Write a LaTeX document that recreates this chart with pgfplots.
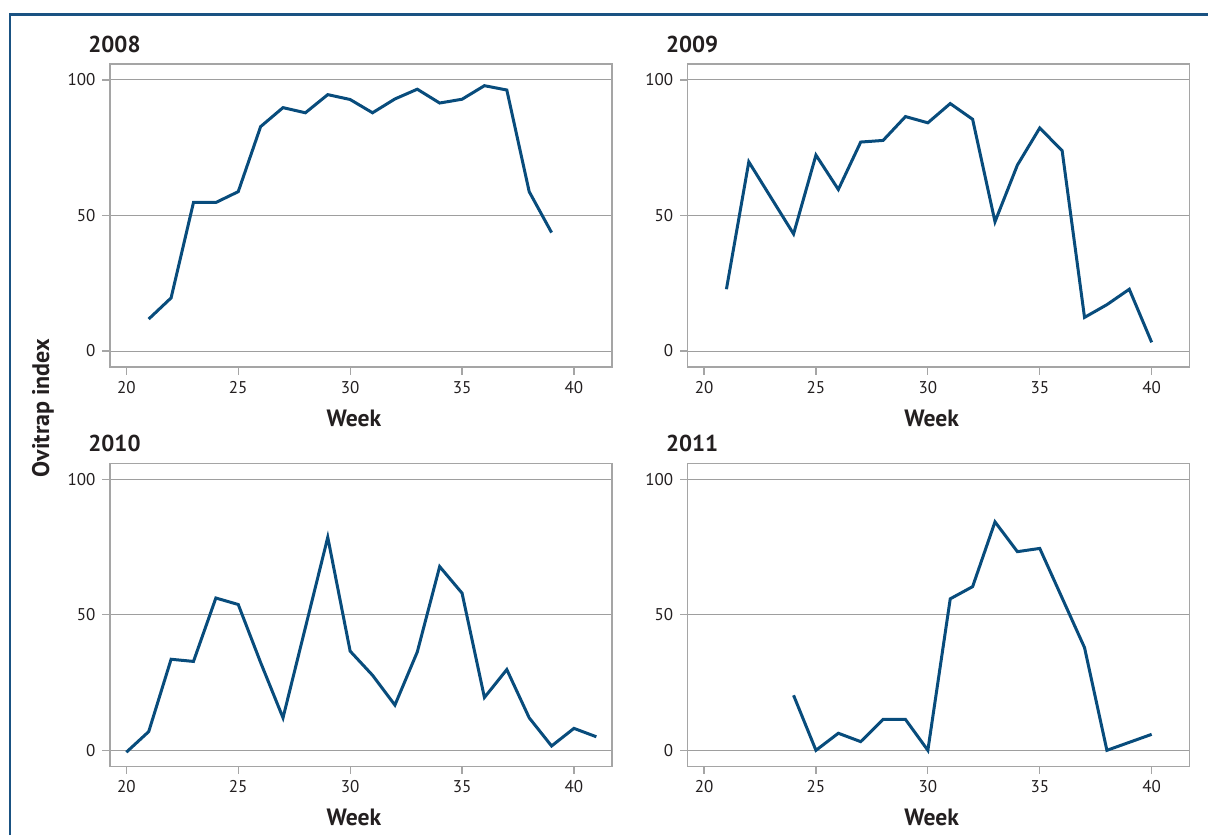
\documentclass[border=0pt]{standalone}
\usepackage{fontspec}
\setmainfont{PT Sans}
\usepackage{pgfplots}
\pgfplotsset{compat=1.18}

\definecolor{lineblue}{RGB}{8,76,124}
\definecolor{frameblue}{RGB}{26,82,130}
\definecolor{gridgray}{RGB}{158,158,158}
\definecolor{boxgray}{RGB}{165,165,165}
\definecolor{ticktext}{RGB}{35,31,32}

\pgfplotsset{
  panel/.style={
    scale only axis,
    width=251pt, height=151.5pt,
    xmin=19.27, xmax=41.7,
    ymin=-5.9, ymax=105.9,
    xtick={20,25,30,35,40},
    ytick={0,50,100},
    ymajorgrids,
    major grid style={line width=0.5pt, color=gridgray},
    axis line style={line width=0.6pt, color=boxgray},
    tick style={line width=0.6pt, color=boxgray},
    tick align=outside,
    major tick length=3.75pt,
    xtick pos=bottom, ytick pos=left,
    tick label style={font=\fontsize{8.5}{10}\selectfont, color=ticktext},
    /pgf/number format/assume math mode=true,
    xlabel={Week},
    xlabel style={font=\bfseries\fontsize{11.8}{13}\selectfont, color=ticktext,
      at={(axis description cs:0.486,0)}, anchor=center, yshift=-25.5pt},
  },
  series/.style={color=lineblue, line width=1.5pt, mark=none},
}
\tikzset{
  ttl/.style={anchor=base west, inner sep=0pt, xshift=-11pt, yshift=6pt,
    font=\bfseries\fontsize{11.5}{13}\selectfont, text=ticktext},
}

\begin{document}
\begin{tikzpicture}
\useasboundingbox (0,0) rectangle (604pt,-417.5pt);
\draw[frameblue, line width=1.2pt] (5.1pt,-417.5pt) -- (5.1pt,-7.25pt) -- (604pt,-7.25pt);

% 2008
\begin{axis}[panel, name=p1, at={(55pt,-32pt)}, anchor=north west]
\addplot[series] coordinates {
  (21,11.8) (22,19.6) (23,54.8) (24,54.8) (25,58.8) (26,82.8) (27,89.8)
  (28,87.9) (29,94.6) (30,92.8) (31,87.9) (32,93.0) (33,96.6) (34,91.5)
  (35,92.9) (36,97.9) (37,96.3) (38,58.8) (39,43.7)
};
\end{axis}

% 2009
\begin{axis}[panel, name=p2, at={(343.85pt,-32pt)}, anchor=north west]
\addplot[series] coordinates {
  (21,22.8) (22,69.8) (24,43.2) (25,72.3) (26,59.6) (27,77.1) (28,77.7)
  (29,86.5) (30,84.2) (31,91.3) (32,85.5) (33,47.7) (34,68.6) (35,82.3)
  (36,73.9) (37,12.4) (38,17.1) (39,22.8) (40,3.2)
};
\end{axis}

% 2010
\begin{axis}[panel, name=p3, at={(55pt,-231.65pt)}, anchor=north west]
\addplot[series] coordinates {
  (20,-0.7) (21,6.9) (22,33.6) (23,32.8) (24,56.2) (25,53.8) (26,32.4)
  (27,12.0) (29,78.6) (30,36.6) (31,27.7) (32,16.7) (33,36.3) (34,67.8)
  (35,58.0) (36,19.5) (37,29.8) (38,12.0) (39,1.6) (40,8.1) (41,5.0)
};
\end{axis}

% 2011
\begin{axis}[panel, name=p4, at={(343.85pt,-231.65pt)}, anchor=north west]
\addplot[series] coordinates {
  (24,20.3) (25,0) (26,6.3) (27,3.2) (28,11.4) (29,11.4) (30,0)
  (31,55.9) (32,60.4) (33,84.3) (34,73.3) (35,74.5) (37,37.9) (38,0) (40,5.9)
};
\end{axis}

\node[ttl] at (p1.north west) {2008};
\node[ttl] at (p2.north west) {2009};
\node[ttl] at (p3.north west) {2010};
\node[ttl] at (p4.north west) {2011};

\node[rotate=90, font=\bfseries\fontsize{12}{13}\selectfont, text=ticktext]
  at (21.5pt,-204pt) {Ovitrap index};
\end{tikzpicture}
\end{document}
